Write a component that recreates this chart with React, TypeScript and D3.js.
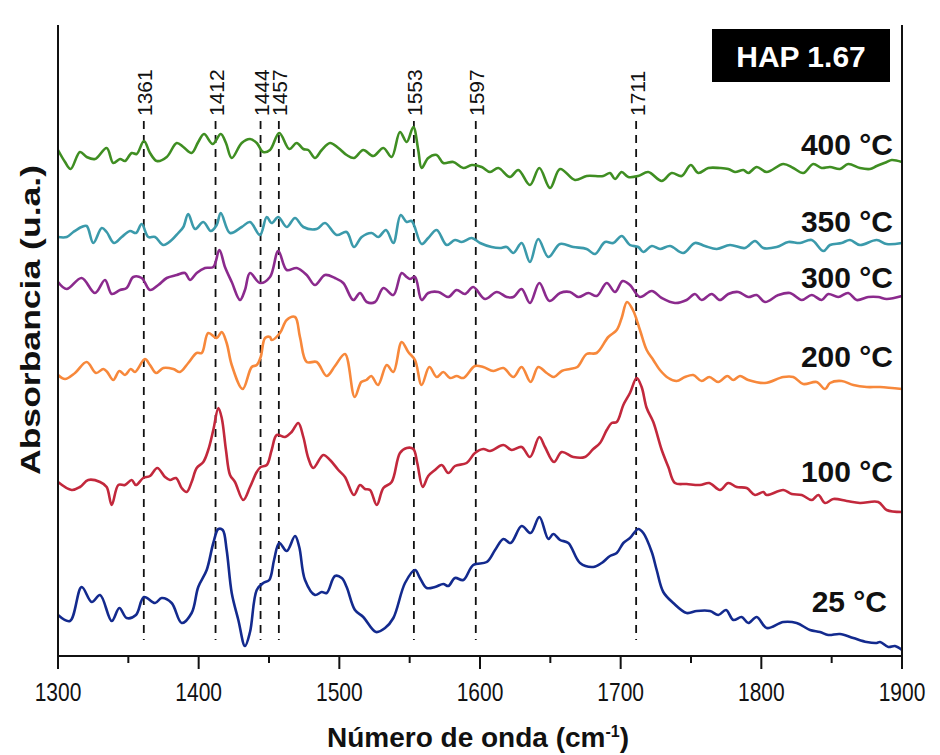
import React from "react";
import * as d3 from "d3";

type P = [number, number];

const xTicks = [1300, 1400, 1500, 1600, 1700, 1800, 1900];
const xMinorTicks = [1350, 1450, 1550, 1650, 1750, 1850];
const peakLines = [1361, 1412, 1444, 1457, 1553, 1597, 1711];

const s25: P[] = [[1300,0.41],[1308.5,0.35],[1316.8,0.69],[1324,0.54],[1329.9,0.61],[1338.2,0.35],[1343.6,0.48],[1348.8,0.38],[1355.4,0.41],[1361.1,0.59],[1369,0.53],[1373.7,0.58],[1380.8,0.53],[1387.9,0.33],[1395,0.43],[1399.7,0.69],[1405.7,0.86],[1410.4,1.13],[1414,1.27],[1417.1,1.26],[1419.9,1.06],[1423.5,0.63],[1428.2,0.36],[1432.9,0.1],[1436.5,0.24],[1441.3,0.66],[1445.9,0.73],[1450.2,0.76],[1453.6,0.96],[1457.3,1.13],[1462.6,1.05],[1468.5,1.2],[1471.5,1.09],[1475.6,0.76],[1482.7,0.61],[1487.5,0.64],[1491,0.63],[1496.9,0.8],[1501.7,0.78],[1505.2,0.69],[1511.1,0.46],[1517,0.39],[1526.1,0.24],[1532.5,0.28],[1538.4,0.38],[1546.7,0.73],[1553.8,0.86],[1557.3,0.78],[1562.1,0.68],[1568,0.69],[1573.9,0.72],[1577.5,0.7],[1582.2,0.78],[1588.1,0.76],[1595.2,0.91],[1604.8,0.94],[1610.7,1.06],[1616.6,1.17],[1621.8,1.13],[1629.6,1.3],[1636,1.23],[1642.2,1.39],[1648.6,1.17],[1652.1,1.22],[1656.9,1.16],[1662.8,1.13],[1671.1,0.93],[1680.5,0.89],[1686.5,0.93],[1692.4,1.0],[1697.2,1.03],[1701.9,1.13],[1706.6,1.18],[1712.5,1.27],[1716.1,1.23],[1722.1,1.04],[1725.6,0.86],[1730.3,0.64],[1737.4,0.53],[1746.9,0.43],[1754.1,0.45],[1763.5,0.45],[1769.4,0.41],[1774.9,0.46],[1780.1,0.36],[1786,0.39],[1790.7,0.33],[1796.7,0.39],[1803.8,0.28],[1815.6,0.34],[1825.1,0.33],[1834.6,0.26],[1841.7,0.24],[1847.6,0.21],[1855.9,0.22],[1865.4,0.18],[1874.9,0.14],[1882,0.13],[1884.4,0.14],[1890.3,0.09],[1895,0.1],[1900,0.06]];

const s100: P[] = [[1300,1.74],[1309.7,1.66],[1315.6,1.69],[1321.5,1.76],[1329.9,1.74],[1334.6,1.69],[1338.2,1.51],[1342.9,1.71],[1347.6,1.71],[1352.4,1.76],[1355.4,1.71],[1360.6,1.78],[1365.4,1.8],[1370.6,1.88],[1376.1,1.79],[1379.6,1.76],[1383.9,1.78],[1387.9,1.68],[1391.5,1.64],[1395,1.74],[1398.6,1.88],[1403.3,1.94],[1406.8,2.06],[1410.4,2.26],[1414,2.48],[1416.4,2.38],[1419.4,2.06],[1422.3,1.81],[1425.8,1.74],[1431.7,1.56],[1436.5,1.69],[1441.3,1.84],[1444.1,1.89],[1448.4,1.91],[1451.9,2.06],[1455.5,2.21],[1461.4,2.19],[1466.1,2.24],[1470.8,2.33],[1474.4,2.19],[1477.9,1.98],[1481.5,1.88],[1488.6,2.01],[1493.4,1.96],[1499.3,1.86],[1504,1.79],[1510.4,1.61],[1514.7,1.71],[1518.2,1.67],[1521.8,1.66],[1526.6,1.51],[1531.3,1.68],[1537.2,1.74],[1543.1,2.03],[1547.9,2.08],[1552.6,2.07],[1555.4,1.93],[1559.3,1.69],[1563.2,1.8],[1568,1.86],[1572.8,1.91],[1577.5,1.83],[1582.2,1.9],[1590.5,1.93],[1596.4,2.03],[1602.3,2.07],[1607.1,2.05],[1616.6,2.11],[1622.5,2.06],[1629.6,2.09],[1635.5,1.99],[1642.2,2.19],[1646.2,2.09],[1652.6,1.94],[1658.1,2.04],[1666.3,1.99],[1674.6,1.99],[1680.5,2.07],[1685.3,2.13],[1690.1,2.26],[1693.6,2.33],[1697.2,2.34],[1701.9,2.51],[1706.6,2.63],[1711.4,2.78],[1714.9,2.69],[1718.5,2.48],[1723.2,2.34],[1729.2,2.06],[1733.9,1.89],[1738.6,1.73],[1746.9,1.72],[1756.4,1.71],[1763,1.73],[1770.6,1.66],[1776.5,1.73],[1782.5,1.69],[1789.6,1.68],[1795.5,1.61],[1801.4,1.64],[1803.8,1.61],[1815.6,1.66],[1821.6,1.62],[1828.7,1.61],[1835.8,1.56],[1840.5,1.61],[1845.3,1.53],[1851.2,1.57],[1860.7,1.55],[1870.1,1.53],[1883.1,1.54],[1889.1,1.46],[1900,1.44]];

const s200: P[] = [[1300,2.81],[1305,2.77],[1312.1,2.83],[1320.4,2.94],[1327,2.83],[1332.2,2.87],[1335,2.84],[1339.3,2.76],[1343.6,2.85],[1347.6,2.81],[1351.7,2.87],[1354.7,2.84],[1361.8,2.97],[1365.4,2.91],[1369.7,2.83],[1374.9,2.88],[1382,2.87],[1386.7,2.84],[1392.6,2.93],[1398.6,3.03],[1402.2,3.03],[1406.8,3.23],[1412.8,3.18],[1416.4,3.24],[1419.9,3.13],[1423.5,2.91],[1431.3,2.67],[1437.7,2.89],[1441.3,2.91],[1444.1,2.99],[1447.2,3.18],[1450.7,3.19],[1451.9,3.16],[1457.8,3.23],[1462.6,3.36],[1468.5,3.39],[1472,3.19],[1476.8,2.94],[1483.9,2.94],[1491,2.8],[1496.9,2.9],[1504,3.02],[1510.9,2.59],[1515.6,2.74],[1519.2,2.76],[1522.7,2.8],[1527.5,2.71],[1533.7,2.91],[1538.4,2.84],[1544.3,3.14],[1549,3.04],[1553.8,2.96],[1558.5,2.71],[1564,2.89],[1569.2,2.79],[1573.9,2.84],[1578.7,2.78],[1583.4,2.8],[1588.1,2.78],[1596.4,2.9],[1602.3,2.89],[1609.5,2.85],[1616.6,2.88],[1623.7,2.79],[1629.6,2.89],[1636,2.74],[1641.4,2.89],[1647.4,2.83],[1652.6,2.79],[1658.1,2.85],[1664,2.87],[1669.2,2.89],[1675.8,3.02],[1682.9,3.03],[1691.2,3.19],[1697.2,3.26],[1700.7,3.38],[1704.5,3.54],[1708.7,3.46],[1713.7,3.26],[1718.5,3.06],[1723.2,2.96],[1727.9,2.86],[1733.9,2.78],[1739.8,2.75],[1745.7,2.79],[1751.6,2.81],[1757.6,2.75],[1763,2.79],[1769.4,2.74],[1775.8,2.8],[1780.1,2.76],[1784.8,2.8],[1790.7,2.76],[1802.6,2.73],[1815.6,2.79],[1822.7,2.79],[1829.8,2.72],[1839.3,2.74],[1845.3,2.67],[1848.8,2.73],[1857.1,2.75],[1865.4,2.71],[1874.9,2.69],[1884.4,2.69],[1900,2.67]];

const s300: P[] = [[1300,3.74],[1306.2,3.67],[1316.8,3.78],[1326.3,3.63],[1333.4,3.76],[1338.2,3.62],[1344.1,3.66],[1348.8,3.68],[1353.5,3.79],[1359.5,3.78],[1365.4,3.66],[1371.3,3.71],[1377.3,3.78],[1384.4,3.81],[1390.3,3.83],[1393.8,3.76],[1398.6,3.83],[1404.5,3.88],[1410.4,3.89],[1414.7,4.06],[1418.7,3.89],[1423.5,3.74],[1429.4,3.56],[1432.9,3.66],[1436.5,3.83],[1443.6,3.73],[1450.7,3.79],[1456.6,4.05],[1462.6,3.86],[1469.7,3.88],[1476.8,3.81],[1482.7,3.71],[1489.8,3.81],[1496.9,3.78],[1502.8,3.73],[1509.9,3.56],[1514.7,3.63],[1519.5,3.54],[1525.4,3.54],[1531.3,3.68],[1538.4,3.61],[1544.3,3.83],[1547.9,3.79],[1550.2,3.77],[1553.8,3.79],[1558.5,3.56],[1563.2,3.63],[1570.4,3.64],[1577.5,3.59],[1583.4,3.66],[1589.3,3.62],[1595.2,3.69],[1603.5,3.57],[1611.9,3.64],[1619,3.59],[1623.7,3.59],[1629.6,3.67],[1635.5,3.53],[1642.2,3.73],[1649.3,3.55],[1656.9,3.63],[1664,3.64],[1669.9,3.59],[1677,3.63],[1683,3.6],[1690.1,3.73],[1696,3.64],[1701.4,3.75],[1706.6,3.71],[1713.7,3.59],[1722.1,3.65],[1729.2,3.58],[1738.6,3.53],[1746.9,3.56],[1752.8,3.62],[1757.6,3.56],[1764.7,3.62],[1770.6,3.56],[1776.5,3.62],[1783.6,3.64],[1790.7,3.59],[1796.7,3.61],[1802.6,3.54],[1812.1,3.61],[1820.4,3.63],[1828.7,3.56],[1835.8,3.61],[1842.9,3.56],[1847.6,3.62],[1854.7,3.59],[1861.8,3.63],[1867.8,3.56],[1876,3.59],[1883.1,3.59],[1889.1,3.57],[1900,3.6]];

const s350: P[] = [[1300,4.19],[1306.2,4.19],[1310.9,4.24],[1316.8,4.29],[1320.4,4.3],[1325.1,4.13],[1331.1,4.28],[1334.6,4.24],[1339.8,4.13],[1345.3,4.19],[1351.2,4.25],[1355.4,4.23],[1359.5,4.32],[1364.2,4.19],[1369,4.19],[1374.9,4.11],[1380.8,4.16],[1385.5,4.23],[1389.1,4.29],[1392.6,4.42],[1397.4,4.27],[1403.3,4.34],[1408.6,4.25],[1412.8,4.31],[1415.7,4.43],[1422.3,4.23],[1430.6,4.29],[1436.5,4.34],[1443.6,4.21],[1448.4,4.39],[1451.9,4.33],[1456.6,4.39],[1462.6,4.29],[1468.5,4.38],[1474.4,4.29],[1483.9,4.27],[1489.8,4.33],[1498.1,4.21],[1505.2,4.24],[1510.4,4.09],[1515.9,4.19],[1523,4.23],[1527.7,4.19],[1533.2,4.26],[1538.4,4.13],[1543.6,4.41],[1547.9,4.34],[1551.4,4.35],[1558.5,4.12],[1563.2,4.18],[1569.2,4.26],[1576.3,4.11],[1582.2,4.16],[1587,4.14],[1594.1,4.18],[1600,4.13],[1608.3,4.09],[1614.2,4.08],[1619,4.09],[1623.7,4.03],[1629.6,4.13],[1635.5,3.94],[1641.4,4.17],[1648.6,3.99],[1656.9,4.12],[1666.3,4.09],[1675.8,4.07],[1681.7,4.02],[1688.9,4.14],[1694.8,4.13],[1700.7,4.2],[1706.6,4.11],[1712.5,4.09],[1716.1,4.04],[1722.1,4.1],[1728,4.07],[1735.1,4.1],[1744.5,4.03],[1752.8,4.13],[1759.9,4.1],[1768.3,4.07],[1777.7,4.11],[1788.4,4.08],[1795.5,4.15],[1801.4,4.08],[1810.9,4.09],[1819.2,4.14],[1827.5,4.13],[1835.8,4.16],[1844.1,4.05],[1848.8,4.11],[1857.1,4.13],[1863,4.16],[1870.1,4.11],[1882,4.16],[1889.1,4.12],[1900,4.13]];

const s400: P[] = [[1300,5.06],[1305,4.94],[1309,4.87],[1315.6,5.04],[1320.4,4.99],[1326.3,4.97],[1334.6,5.08],[1339.3,4.93],[1344.1,4.97],[1347.6,4.95],[1352.4,5.03],[1355.9,5.02],[1361.1,5.15],[1365.4,5.03],[1370.2,4.95],[1377.3,4.99],[1384.4,5.13],[1389.1,5.09],[1395,5.03],[1399.7,5.14],[1403.8,5.22],[1410,5.12],[1415.7,5.22],[1419.4,5.13],[1423.5,4.98],[1430.6,5.13],[1436.5,5.17],[1441.3,5.13],[1445.9,5.04],[1450.7,5.06],[1457.3,5.23],[1464.4,5.07],[1469.7,5.13],[1474.4,5.07],[1477.9,5.06],[1482.7,4.98],[1487.5,5.06],[1493.4,5.13],[1499.3,5.08],[1505.2,5.01],[1510.4,4.98],[1517,5.06],[1524.1,5.0],[1531.3,5.08],[1537.2,4.99],[1543.1,5.24],[1547.9,5.14],[1552.6,5.29],[1556.1,5.06],[1558.5,4.88],[1563.2,4.98],[1569.2,5.01],[1573.9,4.93],[1581,4.94],[1588.1,4.88],[1594.1,4.91],[1601.2,4.89],[1607.1,4.84],[1613,4.88],[1621.3,4.79],[1627.2,4.86],[1635.5,4.71],[1642.2,4.88],[1649.8,4.68],[1656.9,4.87],[1667.5,4.76],[1675.8,4.8],[1687.6,4.8],[1692.4,4.83],[1696,4.77],[1700.7,4.84],[1705.4,4.79],[1712.5,4.8],[1719.6,4.84],[1729.2,4.75],[1736.3,4.83],[1743.4,4.8],[1749.8,4.91],[1755.2,4.83],[1762.3,4.88],[1770.6,4.88],[1776.5,4.87],[1781.3,4.84],[1787.2,4.86],[1790.7,4.83],[1796.7,4.89],[1803.8,4.84],[1815.6,4.92],[1822.7,4.88],[1829.8,4.83],[1836.9,4.92],[1842.9,4.88],[1848.8,4.89],[1855.9,4.87],[1861.8,4.92],[1870.1,4.88],[1877.2,4.87],[1882,4.9],[1889.1,4.94],[1892.7,4.96],[1900,4.94]];

const seriesNames = ["25 °C", "100 °C", "200 °C", "300 °C", "350 °C", "400 °C"];
const seriesData = [s25, s100, s200, s300, s350, s400];
const seriesColors = ["#132a8e", "#c2283c", "#f7883b", "#8b2a8d", "#3b9aab", "#3f8e22"];
const labelValues = [0.44, 1.74, 2.89, 3.68, 4.24, 5.01];

const W = 940, H = 755;
const M = { left: 58, right: 902, top: 25, bottom: 656 };
const FONT = "'Liberation Sans', Arial, Helvetica, sans-serif";

export default function App() {
  const x = d3.scaleLinear().domain([1300, 1900]).range([M.left, M.right]);
  const y = d3.scaleLinear().domain([0, 6.31]).range([M.bottom, M.top]);
  const line = d3
    .line<P>()
    .x((d) => x(d[0]))
    .y((d) => y(d[1]))
    .curve(d3.curveCatmullRom.alpha(0.5));

  return (
    <div style={{ position: "fixed", left: 0, top: 0, width: W, height: H, background: "#fff" }}>
      <svg width={W} height={H} style={{ display: "block" }} fontFamily={FONT}>
        <rect x={0} y={0} width={W} height={H} fill="#ffffff" />
        {peakLines.map((p) => (
          <g key={p}>
            <line x1={x(p)} x2={x(p)} y1={121} y2={640} stroke="#111" strokeWidth={1.8} strokeDasharray="8,6" />
            <text
              transform={`translate(${x(p) + 1},${116}) rotate(-90)`}
              fontSize={21}
              dominantBaseline="central"
              textAnchor="start"
              fill="#111"
            >
              {p}
            </text>
          </g>
        ))}
        {seriesData.map((s, i) => (
          <path key={i} d={line(s) || ""} fill="none" stroke={seriesColors[i]} strokeWidth={2.6} strokeLinejoin="round" />
        ))}
        {seriesNames.map((n, i) => (
          <text
            key={n}
            x={n === "25 °C" ? 887 : 893}
            y={y(labelValues[i])}
            textAnchor="end"
            fontSize={30}
            fontWeight="bold"
            fill="#111"
          >
            {n}
          </text>
        ))}
        <line x1={M.left} x2={M.left} y1={M.top} y2={M.bottom + 1} stroke="#111" strokeWidth={2} />
        <line x1={M.right} x2={M.right} y1={M.top} y2={M.bottom + 1} stroke="#111" strokeWidth={2} />
        <line x1={M.left - 1} x2={M.right + 1} y1={M.bottom} y2={M.bottom} stroke="#111" strokeWidth={2} />
        {xTicks.map((t) => (
          <g key={t}>
            <line x1={x(t)} x2={x(t)} y1={M.bottom} y2={M.bottom + 13} stroke="#111" strokeWidth={2} />
            <text
              transform={`translate(${x(t)},701) scale(1,1.22)`}
              textAnchor="middle"
              fontSize={21}
              fill="#111"
            >
              {t}
            </text>
          </g>
        ))}
        {xMinorTicks.map((t) => (
          <line key={t} x1={x(t)} x2={x(t)} y1={M.bottom} y2={M.bottom + 7} stroke="#111" strokeWidth={2} />
        ))}
        <text x={478} y={747} textAnchor="middle" fontSize={28} fontWeight="bold" fill="#111">
          Número de onda (cm
          <tspan dy={-10} fontSize={16}>-1</tspan>
          <tspan dy={10}>)</tspan>
        </text>
        <text
          transform="translate(40,320) rotate(-90)"
          textAnchor="middle"
          fontSize={28}
          fontWeight="bold"
          textLength={310}
          lengthAdjust="spacingAndGlyphs"
          fill="#111"
        >
          Absorbancia (u.a.)
        </text>
        <rect x={712} y={29} width={178} height={53} fill="#000" />
        <text x={801} y={67} textAnchor="middle" fontSize={30} fontWeight="bold" fill="#fff">
          HAP 1.67
        </text>
      </svg>
    </div>
  );
}
